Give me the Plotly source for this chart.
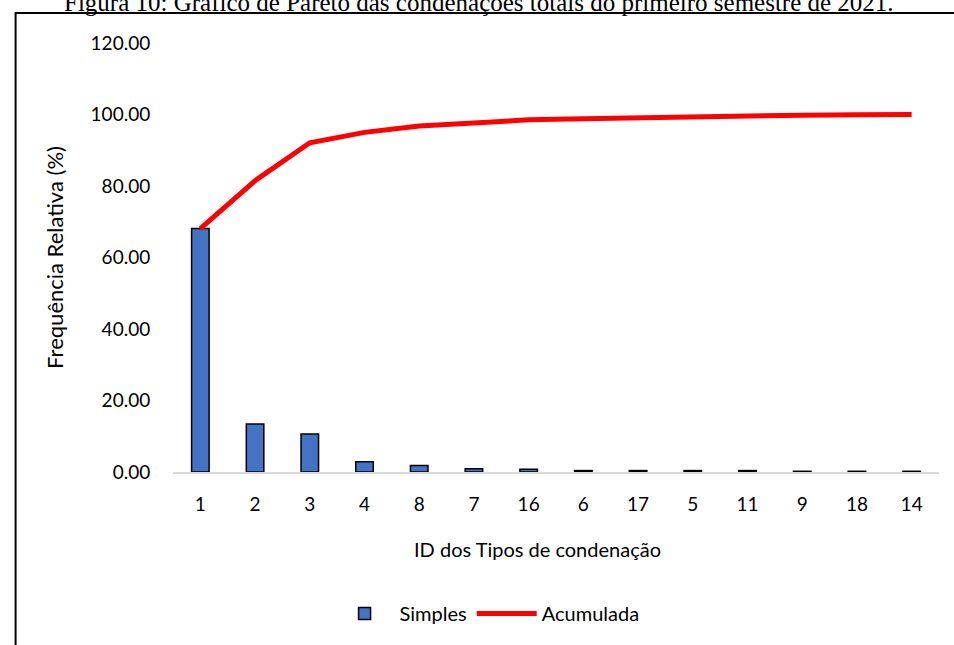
import plotly.graph_objects as go

categories = ["1", "2", "3", "4", "8", "7", "16", "6", "17", "5", "11", "9", "18", "14"]
simples = [68.1, 13.4, 10.6, 2.9, 1.8, 0.9, 0.8, 0.4, 0.4, 0.4, 0.4, 0.2, 0.2, 0.2]
acumulada = [68.1, 81.5, 92.1, 95.0, 96.8, 97.7, 98.5, 98.8, 99.1, 99.4, 99.6, 99.8, 99.9, 100.0]
y_ticks = [0, 20, 40, 60, 80, 100, 120]
y_ticktext = ["0.00", "20.00", "40.00", "60.00", "80.00", "100.00", "120.00"]

font = "Lato, 'Open Sans', sans-serif"

fig = go.Figure()
fig.add_trace(go.Bar(
    x=categories, y=simples, name="Simples",
    marker=dict(color="#4472C4", line=dict(color="black", width=1.5)),
    width=0.32,
))
fig.add_trace(go.Scatter(
    x=categories, y=acumulada, name="Acumulada", mode="lines",
    line=dict(color="#FF0000", width=5),
))

fig.update_layout(
    width=954, height=645,
    margin=dict(l=173, r=15, t=43, b=173),
    paper_bgcolor="white", plot_bgcolor="white",
    font=dict(family=font, size=19, color="black"),
    showlegend=True,
    legend=dict(orientation="h", x=0.41, xanchor="center", y=-0.33, yanchor="middle",
                font=dict(size=20), traceorder="normal", itemwidth=60),
    xaxis=dict(
        type="category", showgrid=False, showline=True, linecolor="#D9D9D9", linewidth=1.5,
        ticks="outside", ticklen=14, tickcolor="rgba(0,0,0,0)",
        range=[-0.5, 13.5],
    ),
    yaxis=dict(
        range=[0, 120], tickvals=y_ticks, ticktext=y_ticktext, showgrid=False,
        showline=False, zeroline=False,
        ticks="outside", ticklen=18, tickcolor="rgba(0,0,0,0)",
        title=dict(text="Frequência Relativa (%)", standoff=20, font=dict(size=22)),
    ),
    shapes=[
        dict(type="rect", xref="paper", yref="paper", x0=-0.2055, x1=1.05, y0=-0.45, y1=1.07,
             line=dict(color="black", width=2), fillcolor="rgba(0,0,0,0)", layer="below"),
    ],
    annotations=[
        dict(text="Figura 10: Gráfico de Pareto das condenações totais do primeiro semestre de 2021.",
             xref="paper", yref="paper", x=0.40, y=1.058, xanchor="center", yanchor="bottom",
             showarrow=False, font=dict(family="'Liberation Serif', 'Times New Roman', serif", size=25, color="black")),
        dict(text="ID dos Tipos de condenação",
             xref="paper", yref="paper", x=0.4765, y=-0.18, xanchor="center", yanchor="middle",
             showarrow=False, font=dict(family=font, size=20, color="black")),
    ],
)

fig.write_html("out.html")
